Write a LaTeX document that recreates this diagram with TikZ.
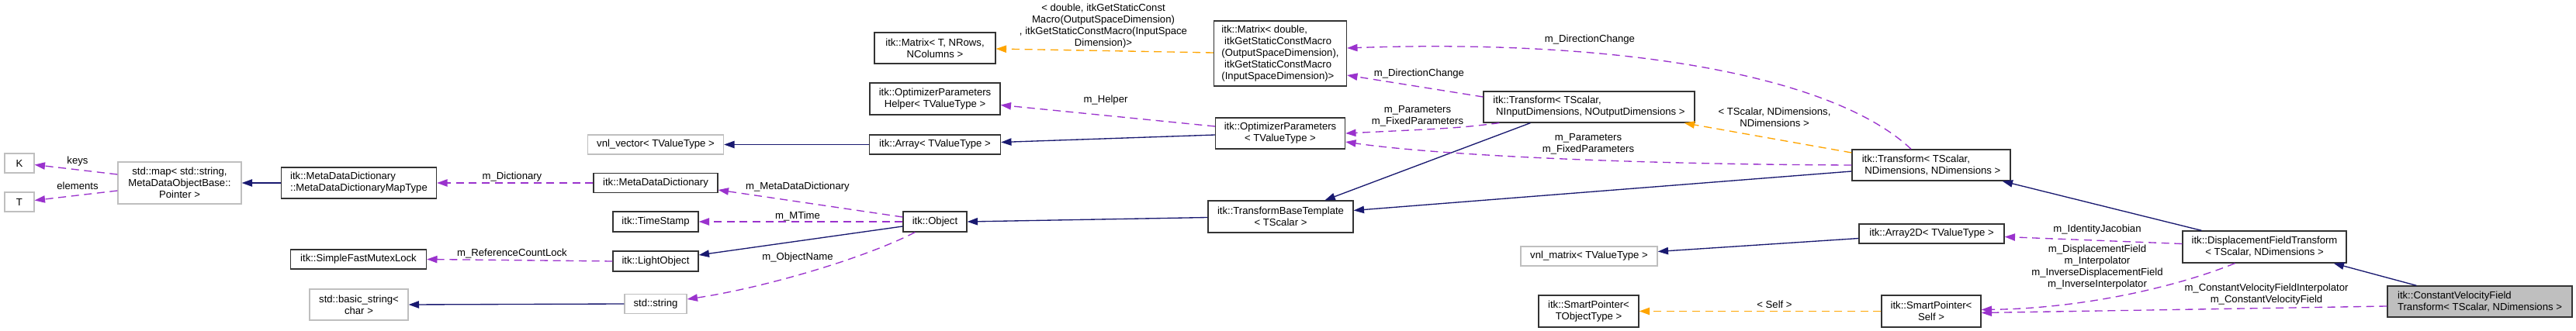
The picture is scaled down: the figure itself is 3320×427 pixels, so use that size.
\documentclass[tikz,border=0pt]{standalone}
\usepackage{fontspec}
\setmainfont{Liberation Sans}
\usetikzlibrary{arrows.meta,calc}

\definecolor{edgeblue}{HTML}{191970}
\definecolor{edgepurple}{HTML}{9A32CD}
\definecolor{edgeorange}{HTML}{FFA500}
\definecolor{grey75}{HTML}{BFBFBF}
\newcommand\dxfont{\fontsize{9.85}{11.25}\selectfont}

\tikzset{
  wh/.style 2 args={minimum width=#1*0.75pt, minimum height=#2*0.75pt},
  cls/.style={draw=black!80, line width=1pt, fill=white, inner sep=0pt, align=center, font=\dxfont},
  ext/.style={cls, draw=grey75},
  lbl/.style={inner sep=0pt, align=center, font=\dxfont},
  inh/.style={draw=edgeblue, line width=1pt, -{Triangle[length=10pt,width=7pt]}},
  mem/.style={draw=edgepurple, line width=1pt, dash pattern=on 7.5pt off 5pt, -{Triangle[length=10pt,width=7pt]}},
  tpl/.style={mem, draw=edgeorange},
}

\begin{document}
\begin{tikzpicture}[x=0.75pt,y=-0.75pt]
\fill[white] (0,0) rectangle (3320,427);
\useasboundingbox (0,0) rectangle (3320,427);

\node[ext, wh={38}{25}] (k) at (25,210.5) {K};
\node[ext, wh={38}{25}] (t) at (25,260.5) {T};
\node[ext, wh={159}{54}] (map) at (231.5,236) {std::map< std::string,\\MetaDataObjectBase::\\Pointer >};
\node[cls, wh={200}{40}, align=left] (mtype) at (462.5,236) {itk::MetaDataDictionary\\::MetaDataDictionaryMapType};
\node[cls, wh={175}{25}] (sfml) at (462,334.5) {itk::SimpleFastMutexLock};
\node[ext, wh={127}{40}] (bstr) at (462.5,393) {std::basic\_string<\\char >};
\node[ext, wh={175}{25}] (vnlv) at (845,186.5) {vnl\_vector< TValueType >};
\node[cls, wh={160}{25}] (mdd) at (845,236) {itk::MetaDataDictionary};
\node[cls, wh={110}{26}] (ts) at (845,286) {itk::TimeStamp};
\node[cls, wh={110}{26}] (lo) at (845,337) {itk::LightObject};
\node[ext, wh={80}{25}] (str) at (845,392) {std::string};
\node[cls, wh={156}{40}] (mt) at (1205,62) {itk::Matrix< T, NRows,\\NColumns >};
\node[cls, wh={168}{41}] (helper) at (1205,127.5) {itk::OptimizerParameters\\Helper< TValueType >};
\node[cls, wh={169}{25}] (arr) at (1205,186.5) {itk::Array< TValueType >};
\node[cls, wh={82}{26}] (obj) at (1205,286) {itk::Object};
\node[cls, wh={171}{84}, align=left] (mdbl) at (1650,69) {itk::Matrix< double,\\\hspace*{2.8pt}itkGetStaticConstMacro\\(OutputSpaceDimension),\\\hspace*{2.8pt}itkGetStaticConstMacro\\(InputSpaceDimension)>};
\node[cls, wh={167}{40}] (optp) at (1650,172) {itk::OptimizerParameters\\< TValueType >};
\node[cls, wh={187}{41}] (tbt) at (1650.5,279.5) {itk::TransformBaseTemplate\\< TScalar >};
\node[cls, wh={272}{40}, align=left] (tin) at (2048,138) {itk::Transform< TScalar,\\\hspace*{2.8pt}NInputDimensions, NOutputDimensions >};
\node[ext, wh={176}{25}] (vnlm) at (2048,330.5) {vnl\_matrix< TValueType >};
\node[cls, wh={129}{41}] (spt) at (2047.5,401.5) {itk::SmartPointer<\\TObjectType >};
\node[cls, wh={204}{40}, align=left] (tnd) at (2489,213) {itk::Transform< TScalar,\\\hspace*{2.8pt}NDimensions, NDimensions >};
\node[cls, wh={187}{25}] (a2d) at (2489.5,301.5) {itk::Array2D< TValueType >};
\node[cls, wh={128}{41}] (sps) at (2489,401.5) {itk::SmartPointer<\\Self >};
\node[cls, wh={211}{41}] (dft) at (2918.5,318.5) {itk::DisplacementFieldTransform\\< TScalar, NDimensions >};
\node[cls, fill=grey75, wh={238}{40}, align=left] (cvf) at (3196,389) {itk::ConstantVelocityField\\Transform< TScalar, NDimensions >};

\draw[mem] ($(map.west)+(0,-11)$) -- ($(k.east)+(0,2)$);
\draw[mem] ($(map.west)+(0,10)$) -- ($(t.east)+(0,-2)$);
\draw[inh] (mtype.west) -- (map.east);
\draw[mem] (mdd.west) -- (mtype.east);
\draw[mem] ($(obj.west)+(0,-6)$) -- ($(mdd.east)+(0,9)$);
\draw[mem] (obj.west) -- (ts.east);
\draw[inh] ($(obj.west)+(0,6)$) -- ($(lo.east)+(0,-8)$);
\draw[mem] ($(obj.south west)+(16,0)$) .. controls (1110,335) and (980,372) .. ($(str.east)+(0,-6)$);
\draw[mem] (lo.west) -- (sfml.east);
\draw[inh] (str.west) -- (bstr.east);
\draw[inh] (arr.west) -- (vnlv.east);
\draw[inh] ($(optp.west)+(0,2)$) -- ($(arr.east)+(0,-3)$);
\draw[mem] ($(optp.west)+(0,-9)$) -- ($(helper.east)+(0,8)$);
\draw[tpl] ($(mdbl.west)+(0,-1)$) -- ($(mt.east)+(0,1)$);
\draw[inh] ($(tbt.west)+(0,1)$) -- (obj.east);
\draw[inh] ($(tin.south west)+(61,0)$) -- ($(tbt.north)+(57,0)$);
\draw[mem] ($(tin.west)+(0,-13)$) -- ($(mdbl.east)+(0,28)$);
\draw[mem] ($(tin.south west)+(21,0)$) .. controls (1880,165) .. (optp.east);
\draw[tpl] ($(tnd.west)+(0,-16)$) -- ($(tin.south east)+(-14,0)$);
\draw[mem] ($(tnd.north)+(-26,0)$) .. controls (2360,95) and (2080,50) .. ($(mdbl.east)+(0,-7)$);
\draw[mem] (tnd.west) .. controls (2100,212) and (1850,200) .. ($(optp.east)+(0,11)$);
\draw[inh] ($(tnd.west)+(0,8)$) -- ($(tbt.east)+(0,-8)$);
\draw[inh] ($(dft.north west)+(25,0)$) -- ($(tnd.south east)+(-11,0)$);
\draw[mem] ($(dft.west)+(0,-4)$) -- ($(a2d.east)+(0,4)$);
\draw[mem] ($(dft.south)+(-38,0)$) .. controls (2800,372) and (2680,398) .. ($(sps.east)+(0,-2)$);
\draw[inh] ($(cvf.north west)+(38,0)$) -- ($(dft.south east)+(-17,0)$);
\draw[mem] ($(cvf.west)+(0,6)$) -- ($(sps.east)+(0,2)$);
\draw[tpl] (sps.west) -- (spt.east);
\draw[inh] ($(a2d.west)+(0,6)$) -- ($(vnlm.east)+(0,-6)$);

\node[lbl] (lkeys) at (100,208) {keys};
\node[lbl] (lelem) at (100,240) {elements};
\node[lbl] (ldict) at (660,228) {m\_Dictionary};
\node[lbl] (lrcl) at (660,327) {m\_ReferenceCountLock};
\node[lbl] (lmdd) at (1028,241) {m\_MetaDataDictionary};
\node[lbl] (lmtime) at (1028,279) {m\_MTime};
\node[lbl] (lname) at (1028,332) {m\_ObjectName};
\node[lbl] (lhelp) at (1425,129) {m\_Helper};
\node[lbl] (lmat) at (1422,34) {< double, itkGetStaticConst\\Macro(OutputSpaceDimension)\\, itkGetStaticConstMacro(InputSpace\\Dimension)>};
\node[lbl] (ldir1) at (1829,95) {m\_DirectionChange};
\node[lbl] (lpar1) at (1827,150) {m\_Parameters\\m\_FixedParameters};
\node[lbl] (ldir2) at (2049,51) {m\_DirectionChange};
\node[lbl] (lpar2) at (2047,186) {m\_Parameters\\m\_FixedParameters};
\node[lbl] (ltnd) at (2287,151) {< TScalar, NDimensions,\\NDimensions >};
\node[lbl] (lself) at (2287,393) {< Self >};
\node[lbl] (ljac) at (2703,296) {m\_IdentityJacobian};
\node[lbl] (ldisp) at (2703,345) {m\_DisplacementField\\m\_Interpolator\\m\_InverseDisplacementField\\m\_InverseInterpolator};
\node[lbl] (lcvf) at (2921,380) {m\_ConstantVelocityFieldInterpolator\\m\_ConstantVelocityField};
\end{tikzpicture}
\end{document}
